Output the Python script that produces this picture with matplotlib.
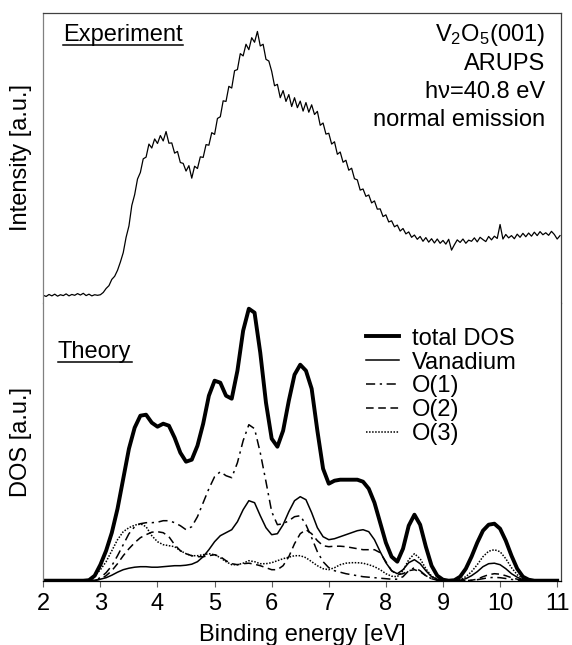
import matplotlib
matplotlib.use('Agg')
import matplotlib.pyplot as plt
from matplotlib.lines import Line2D

plt.rcParams['font.family'] = ['Liberation Sans', 'DejaVu Sans']
plt.rcParams['mathtext.fontset'] = 'custom'
plt.rcParams['mathtext.rm'] = 'Liberation Sans'
plt.rcParams['mathtext.it'] = 'Liberation Sans:italic'
plt.rcParams['lines.solid_joinstyle'] = 'round'
plt.rcParams['lines.dash_joinstyle'] = 'round'

# --- experiment (ARUPS), 0.05 eV steps from 2.00 eV ---
exp_start = 2.0
exp_step = 0.05
exp_int = [
    0.6, 0.2, 0.9, 0.4, 1.0, 0.3, 0.8, 0.5, 1.1, 0.4,
    0.9, 0.6, 1.2, 0.7, 1.3, 0.5, 1.0, 0.4, 0.8, 0.6,
    0.8, 1.6, 3.0, 4.0, 6.2, 7.3, 9.4, 12.3, 15.6, 21.0,
    25.0, 32.2, 36.0, 41.5, 43.8, 48.6, 49.2, 53.8, 52.4, 55.6,
    54.0, 56.8, 54.9, 58.2, 54.1, 54.2, 50.6, 51.2, 47.3, 47.0,
    44.3, 46.2, 41.8, 46.0, 45.2, 49.3, 49.1, 53.6, 53.4, 57.8,
    57.2, 62.8, 63.4, 69.0, 68.8, 74.1, 73.5, 79.6, 80.0, 85.6,
    84.8, 88.9, 87.0, 91.2, 89.6, 93.4, 88.3, 88.9, 83.6, 83.0,
    79.4, 74.3, 74.8, 70.1, 72.6, 68.8, 71.2, 67.0, 70.1, 66.6,
    68.9, 65.4, 68.4, 65.0, 67.6, 64.2, 65.3, 60.4, 61.2, 57.3,
    57.6, 53.8, 54.6, 50.2, 51.0, 47.4, 48.1, 44.6, 45.3, 41.6,
    41.2, 37.6, 38.0, 35.4, 35.9, 33.1, 33.8, 30.9, 31.0, 28.3,
    28.9, 26.4, 26.8, 24.7, 25.3, 23.2, 24.1, 22.2, 22.9, 21.0,
    21.8, 20.3, 21.3, 19.6, 20.9, 19.3, 20.5, 19.0, 20.4, 18.9,
    19.9, 18.6, 20.3, 16.5, 18.4, 20.1, 19.2, 20.4, 18.9, 20.0,
    19.6, 20.8, 19.4, 21.0, 20.2, 19.5, 21.3, 20.1, 21.4, 20.6,
    25.5, 20.4, 22.0, 20.8, 21.6, 20.5, 22.1, 21.0, 22.4, 21.2,
    22.5, 21.4, 22.8, 21.6, 23.0, 21.9, 22.6, 21.7, 23.1, 22.0,
    20.4, 21.6,
]
exp_energy = [round(exp_start + i * exp_step, 3) for i in range(len(exp_int))]

# --- theory (DOS), 0.1 eV steps from 2.0 to 11.0 eV ---
dos_energy = [round(2.0 + 0.1 * i, 2) for i in range(91)]
zeros8 = [0] * 8
dos_total = zeros8 + [
    0.5, 5, 16, 30, 48, 72, 102, 132, 153, 165,
    166, 158, 154, 157, 155, 143, 128, 119, 121, 135,
    157, 185, 200, 198, 185, 182, 210, 250, 272, 268,
    228, 178, 142, 134, 150, 180, 206, 216, 210, 192,
    150, 112, 97, 100, 101, 101, 101, 101, 99, 92,
    78, 58, 38, 24, 19, 32, 55, 66, 56, 34,
    15, 5, 1, 0, 0.5, 4, 12, 24, 38, 50,
    56, 57, 52, 40, 25, 12, 4, 1, 0, 0,
    0, 0, 0,
]
dos_v = zeros8 + [
    0, 0.5, 1.5, 3, 5.5, 8.5, 11, 12.5, 13.5, 14,
    14, 13.5, 13.5, 14, 14.5, 15, 15, 15.5, 16.5, 19,
    24, 31, 39, 45, 48, 51, 59, 71, 80, 78,
    65, 53, 46, 47, 56, 69, 80, 84, 81, 68,
    53, 44, 41, 42, 44, 46, 48, 50, 51, 49,
    41, 29, 18, 10, 7, 11, 18, 21, 17, 10,
    4, 1.5, 0.5, 0, 0, 0.5, 2, 5, 9, 14,
    17, 17.5, 16, 12, 7, 3.5, 1, 0.3, 0, 0,
    0, 0, 0,
]
dos_o1 = zeros8 + [
    0, 0.5, 3, 8, 15, 25, 36, 47, 54, 57,
    58, 58, 58.5, 60, 60, 58, 55, 51, 54, 64,
    78, 92, 104, 109, 105, 103, 118, 140, 156, 152,
    128, 99, 69, 56, 57, 60, 64, 65, 56, 43,
    29, 19, 13, 10, 8.5, 7, 6, 5, 4, 3.5,
    3, 2.5, 2, 1.5, 1.5, 4, 10, 13, 10, 5,
    2, 0.5, 0, 0, 0, 0, 0, 0.3, 1, 2,
    3, 3.3, 3, 2.2, 1.3, 0.6, 0.2, 0, 0, 0,
    0, 0, 0,
]
dos_o2 = zeros8 + [
    0, 0, 1.5, 5, 10, 17, 25, 32, 38, 43,
    46, 48.5, 49, 48, 44, 36, 30, 27, 25, 24,
    24, 25, 26, 24, 20, 17, 16, 17, 17.5, 16.5,
    15, 13, 11, 11, 15, 24, 37, 47, 51, 47,
    40, 35, 34, 34.5, 34.5, 34, 33, 32, 31, 31,
    31, 28, 19, 10, 6, 7, 10, 11, 9, 5,
    2, 0.5, 0, 0, 0, 0, 0, 0.5, 1.5, 4,
    6, 7, 6.5, 5, 3, 1.5, 0.5, 0, 0, 0,
    0, 0, 0,
]
dos_o3 = [0] * 7 + [
    0, 1.5, 5, 11, 19, 30, 41, 49, 53, 55.5,
    57, 54, 45, 39, 36, 35, 34, 30, 27, 25,
    25, 26, 27, 26, 23, 19, 16, 16, 17.5, 20,
    19, 17, 17, 18, 20, 22, 23.5, 25, 25, 23,
    19, 15, 12, 11, 13, 16, 17.5, 18, 18, 17.5,
    16, 14, 11, 7, 4.5, 4, 10, 21, 27, 22,
    12, 4.5, 1.5, 0.3, 0, 0, 1, 4, 9, 16,
    24, 29.5, 31, 29, 22, 13, 6, 2, 0.5, 0,
    0, 0, 0, 0,
]
dos_labels = ['total DOS', 'Vanadium', 'O(1)', 'O(2)', 'O(3)']

W, H = 572, 645
fs = 17
fig = plt.figure(figsize=(W / 100, H / 100), dpi=100)
ax_top = fig.add_axes([43.3 / W, 1 - 302.7 / H, 517.7 / W, 290.0 / H])
ax_bot = fig.add_axes([43.3 / W, 1 - 580.7 / H, 517.7 / W, 278.0 / H], sharex=ax_top)

ax_top.plot(exp_energy, exp_int, color='black', lw=0.9)
ax_top.set_ylim(-2, 100)

ax_bot.plot(dos_energy, dos_total, color='black', lw=2.8, label=dos_labels[0])
ax_bot.plot(dos_energy, dos_v, color='black', lw=1.1, label=dos_labels[1])
ax_bot.plot(dos_energy, dos_o1, color='black', lw=1.1, dashes=(6, 3, 1.5, 3), label=dos_labels[2])
ax_bot.plot(dos_energy, dos_o2, color='black', lw=1.1, dashes=(5, 3), label=dos_labels[3])
ax_bot.plot(dos_energy, dos_o3, color='black', lw=1.1, dashes=(1, 1), label=dos_labels[4])
ax_bot.set_ylim(0, 278)
ax_bot.set_xlim(2, 11.067)
ax_bot.set_xticks(range(2, 12))

for ax in (ax_top, ax_bot):
    ax.set_yticks([])
    ax.spines['left'].set_color('#808080')
    ax.spines['right'].set_color('#404040')
    ax.spines['top'].set_color('#404040')
    for s in ax.spines.values():
        s.set_linewidth(0.9)
ax_top.spines['bottom'].set_visible(False)
ax_bot.spines['top'].set_visible(False)
ax_top.tick_params(axis='x', bottom=False, labelbottom=False)
ax_bot.tick_params(axis='x', direction='out', length=4, width=0.8, color='#606060',
                   labelsize=fs, pad=5)

ax_top.set_ylabel('Intensity [a.u.]', fontsize=fs, labelpad=8)
ax_bot.set_ylabel('DOS [a.u.]', fontsize=fs, labelpad=8)
ax_bot.set_xlabel('Binding energy [eV]', fontsize=fs, labelpad=6)

t_exp = fig.text(63 / W, 1 - 41 / H, 'Experiment', fontsize=fs, va='baseline', ha='left')
t_th = fig.text(58 / W, 1 - 358 / H, 'Theory', fontsize=fs, va='baseline', ha='left')
info = ['V$_2$O$_5$(001)', 'ARUPS', 'h\u03bd=40.8 eV', 'normal emission']
for k, line in enumerate(info):
    fig.text(545 / W, 1 - (41 + 28.5 * k) / H, line, fontsize=fs, va='baseline', ha='right')

leg = ax_bot.legend(loc='upper left', bbox_to_anchor=(0.623, 0.91), frameon=False,
                    fontsize=fs, handlelength=1.4, handletextpad=0.55,
                    labelspacing=0.08, borderpad=0, borderaxespad=0)

# underline the two panel titles
fig.canvas.draw()
r = fig.canvas.get_renderer()
for t in (t_exp, t_th):
    bb = t.get_window_extent(r)
    y0 = t.get_position()[1] * H - 4
    fig.add_artist(Line2D([bb.x0 / W, bb.x1 / W], [y0 / H, y0 / H],
                          transform=fig.transFigure, color='black', lw=1.1))

fig.savefig('out.png', dpi=100)
